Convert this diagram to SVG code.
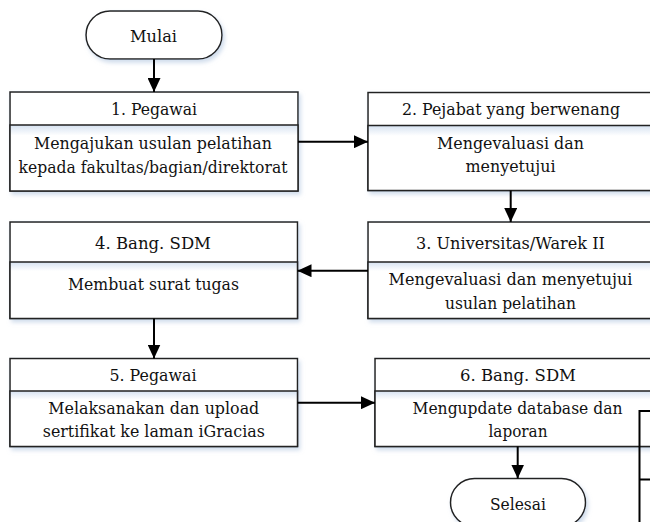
<svg xmlns="http://www.w3.org/2000/svg" width="650" height="522" viewBox="0 0 650 522">
<defs>
<filter id="sh" x="-10%" y="-10%" width="130%" height="140%">
<feDropShadow dx="2" dy="3" stdDeviation="2.2" flood-color="#a9bfdc" flood-opacity="0.55"/>
</filter>
<linearGradient id="bg" x1="0" y1="0" x2="0" y2="1">
<stop offset="0" stop-color="#d6e2f1"/>
<stop offset="0.16" stop-color="#ffffff"/>
<stop offset="1" stop-color="#ffffff"/>
</linearGradient>
<marker id="ah" markerWidth="14" markerHeight="13" refX="14" refY="6.5" orient="auto" markerUnits="userSpaceOnUse">
<path d="M0,0 L14,6.5 L0,13 Z" fill="#000"/>
</marker>
<style>
.frame{fill:#fff;stroke:#222;stroke-width:1.5;filter:url(#sh)}
.body{fill:url(#bg);stroke:#222;stroke-width:1.5}
.t{font-family:"DejaVu Serif","Liberation Serif",serif;font-size:17.5px;fill:#111;text-anchor:middle}
.c{fill:none;stroke:#000;stroke-width:2;marker-end:url(#ah)}
.frag{fill:none;stroke:#000;stroke-width:2}
</style>
</defs>

<g id="mulai">
<rect class="frame" x="86" y="11" width="136" height="48" rx="24"/>
<text class="t" x="153.5" y="42" textLength="47" lengthAdjust="spacingAndGlyphs">Mulai</text>
</g>

<g id="node1">
<rect class="frame" x="10" y="92" width="288" height="99"/>
<rect class="body" x="10" y="125" width="288" height="66"/>
<text class="t" x="154" y="115" textLength="86" lengthAdjust="spacingAndGlyphs">1. Pegawai</text>
<text class="t" x="153" y="149" textLength="238" lengthAdjust="spacingAndGlyphs">Mengajukan usulan pelatihan</text>
<text class="t" x="153" y="173" textLength="269" lengthAdjust="spacingAndGlyphs">kepada fakultas/bagian/direktorat</text>
</g>

<g id="node2">
<rect class="frame" x="368" y="92.5" width="287" height="98"/>
<rect class="body" x="368" y="125.5" width="287" height="65"/>
<text class="t" x="511" y="115" textLength="218" lengthAdjust="spacingAndGlyphs">2. Pejabat yang berwenang</text>
<text class="t" x="510.5" y="148.5" textLength="147" lengthAdjust="spacingAndGlyphs">Mengevaluasi dan</text>
<text class="t" x="510.5" y="172" textLength="90" lengthAdjust="spacingAndGlyphs">menyetujui</text>
</g>

<g id="node3">
<rect class="frame" x="368" y="222" width="287" height="96.5"/>
<rect class="body" x="368" y="262" width="287" height="56.5"/>
<text class="t" x="510.5" y="249" textLength="189" lengthAdjust="spacingAndGlyphs">3. Universitas/Warek II</text>
<text class="t" x="510.5" y="285" textLength="244" lengthAdjust="spacingAndGlyphs">Mengevaluasi dan menyetujui</text>
<text class="t" x="510.5" y="308.5" textLength="131" lengthAdjust="spacingAndGlyphs">usulan pelatihan</text>
</g>

<g id="node4">
<rect class="frame" x="10" y="222" width="287.5" height="96.5"/>
<rect class="body" x="10" y="262" width="287.5" height="56.5"/>
<text class="t" x="153" y="248.5" textLength="116" lengthAdjust="spacingAndGlyphs">4. Bang. SDM</text>
<text class="t" x="153.5" y="289.5" textLength="171" lengthAdjust="spacingAndGlyphs">Membuat surat tugas</text>
</g>

<g id="node5">
<rect class="frame" x="10" y="358.5" width="287.5" height="88"/>
<rect class="body" x="10" y="391" width="287.5" height="55.5"/>
<text class="t" x="153" y="381" textLength="87" lengthAdjust="spacingAndGlyphs">5. Pegawai</text>
<text class="t" x="153.8" y="413.5" textLength="211" lengthAdjust="spacingAndGlyphs">Melaksanakan dan upload</text>
<text class="t" x="153.8" y="437" textLength="222" lengthAdjust="spacingAndGlyphs">sertifikat ke laman iGracias</text>
</g>

<g id="node6">
<rect class="frame" x="375" y="358.5" width="287" height="88"/>
<rect class="body" x="375" y="391" width="287" height="55.5"/>
<text class="t" x="518" y="381" textLength="116" lengthAdjust="spacingAndGlyphs">6. Bang. SDM</text>
<text class="t" x="517.5" y="413.5" textLength="210" lengthAdjust="spacingAndGlyphs">Mengupdate database dan</text>
<text class="t" x="518" y="437" textLength="59" lengthAdjust="spacingAndGlyphs">laporan</text>
</g>

<g id="selesai">
<rect class="frame" x="450.5" y="478.5" width="135" height="48" rx="24"/>
<text class="t" x="518" y="510" textLength="56" lengthAdjust="spacingAndGlyphs">Selesai</text>
</g>

<g id="fragment">
<path class="frag" d="M650,411 H639.5 V522 M639.5,479.5 H650"/>
</g>

<g id="connectors">
<path class="c" d="M154,59 V92"/>
<path class="c" d="M298,141.7 H368"/>
<path class="c" d="M510.7,190.5 V222"/>
<path class="c" d="M368,270.7 H297.5"/>
<path class="c" d="M154,318.5 V358.5"/>
<path class="c" d="M297.5,402.7 H375"/>
<path class="c" d="M517.7,446.5 V478.5"/>
</g>
</svg>
